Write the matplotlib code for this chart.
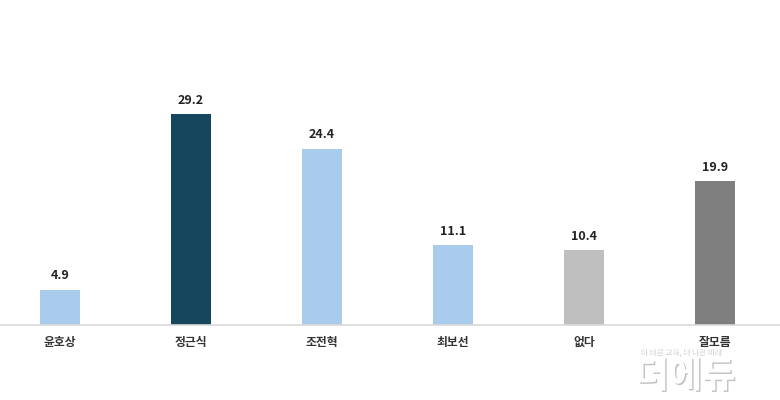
import matplotlib.pyplot as plt
import matplotlib.patheffects as pe

plt.rcParams['font.family'] = ['Noto Sans CJK KR', 'DejaVu Sans']

# data
names = ["윤호상", "정근식", "조전혁", "최보선", "없다", "잘모름"]
values = [4.9, 29.2, 24.4, 11.1, 10.4, 19.9]
colors = ["#a9cbec", "#16455e", "#a9cbec", "#a9cbec", "#bfbfbf", "#7f7f7f"]

fig = plt.figure(figsize=(7.8, 4.0), dpi=100)
ax = fig.add_axes([0, 0.1875, 1, 0.8125])

x = range(len(names))
ax.bar(x, values, width=0.305, color=colors)

for i, v in enumerate(values):
    ax.text(i, v + 1.0, f"{v:.1f}", ha="center", va="bottom",
            fontsize=9, fontweight="bold", color="#222222")

ax.set_xlim(-0.458, 5.496)
ax.set_ylim(0, 44.95)
ax.set_xticks(list(x))
ax.set_xticklabels(names, fontsize=8.5, fontweight="bold", color="#333333")
ax.tick_params(axis="x", length=0, pad=8)
ax.set_yticks([])
for s in ["top", "right", "left"]:
    ax.spines[s].set_visible(False)
ax.spines["bottom"].set_color("#d9d9d9")
ax.spines["bottom"].set_linewidth(1.2)

# watermark
shadow = [pe.withSimplePatchShadow(offset=(1, -1), shadow_rgbFace="#999999", alpha=0.6)]
fig.text(0.82, 0.12, "더 바른 교육, 더 나은 미래", fontsize=5.5, color="white",
         ha="left", va="center", path_effects=shadow)
fig.text(0.815, 0.058, "더에듀", fontsize=26, fontweight="bold", color="white",
         ha="left", va="center", path_effects=shadow)

fig.savefig("out.png", dpi=100)
